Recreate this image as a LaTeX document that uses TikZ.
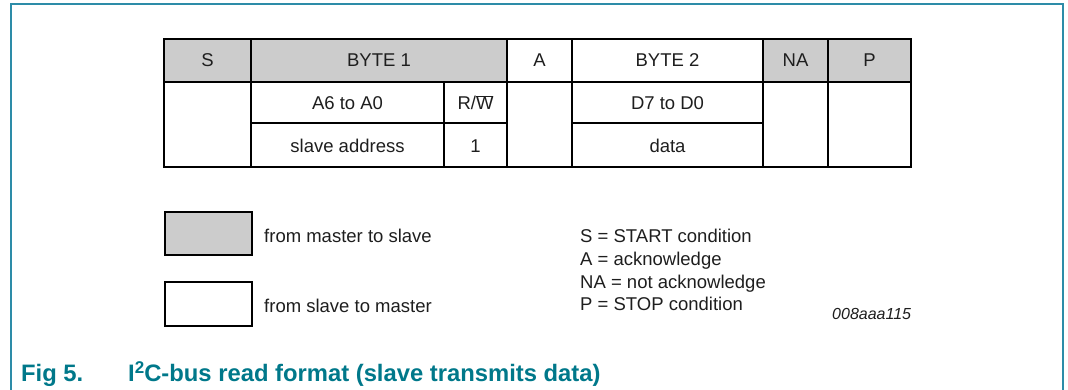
\documentclass[tikz,border=0pt]{standalone}
\usepackage{fontspec}
\setmainfont{Liberation Sans}
\definecolor{framec}{RGB}{45,140,168}
\definecolor{capc}{RGB}{0,120,138}
\definecolor{grayfill}{RGB}{204,204,204}
\definecolor{ink}{RGB}{30,30,30}
\begin{document}
\begin{tikzpicture}[x=1pt,y=-1pt,
  thk/.style={line width=2.8pt},
  thn/.style={line width=1.4pt},
  txt/.style={inner sep=0pt,anchor=base,text=ink,font=\fontsize{18.5}{22}\selectfont},
  lgd/.style={inner sep=0pt,anchor=base west,text=ink,font=\fontsize{18.5}{22}\selectfont},
  captxt/.style={inner sep=0pt,anchor=base west,text=capc,font=\fontsize{23.8}{28}\selectfont\bfseries}]
\useasboundingbox (0,0) rectangle (1068,390);
% frame
\draw[framec,line width=1.5pt] (11,395) -- (11,4) -- (1063,4) -- (1063,395);
% gray cells
\fill[grayfill] (164,39) rectangle (507,82);
\fill[grayfill] (763,39) rectangle (911,82);
% grid
\draw[thn] (164,82) -- (911,82);
\draw[thk] (251,123) -- (507,123);
\draw[thk] (572,123) -- (763,123);
\draw[thk] (251,39) -- (251,167);
\draw[thk] (444,82) -- (444,167);
\draw[thk] (507,39) -- (507,167);
\draw[thk] (572,39) -- (572,167);
\draw[thk] (763,39) -- (763,167);
\draw[thk] (828,39) -- (828,167);
\draw[thk] (164,39) rectangle (911,167);
% text
\node[txt] (s) at (207.5,67) {S};
\node[txt] (b1) at (379,67) {BYTE 1};
\node[txt] (a) at (539.5,67) {A};
\node[txt] (b2) at (667.5,67) {BYTE 2};
\node[txt] (na) at (795.5,67) {NA};
\node[txt] (p) at (869.5,67) {P};
\node[txt] (a6) at (347.5,110) {A6 to A0};
\node[txt] (rw) at (475.5,110) {R/$\overline{\mbox{W}}$};
\node[txt] (sa) at (347.5,153) {slave address};
\node[txt] (one) at (475.5,153) {1};
\node[txt] (d7) at (667.5,110) {D7 to D0};
\node[txt] (data) at (667.5,153) {data};
% legend
\draw[thk,fill=grayfill] (165,212) rectangle (252,255);
\draw[thk,fill=white] (165,282) rectangle (252,326);
\node[lgd] (l1) at (264,242) {from master to slave};
\node[lgd] (l2) at (264,312) {from slave to master};
\node[lgd] (k1) at (580,243) {S = START condition};
\node[lgd] (k2) at (580,265.5) {A = acknowledge};
\node[lgd] (k3) at (580,288) {NA = not acknowledge};
\node[lgd] (k4) at (580,310.5) {P = STOP condition};
\node[lgd,font=\fontsize{16}{18}\selectfont\itshape] (id) at (832,319) {008aaa115};
% caption
\node[captxt] (f1) at (21,381) {Fig 5.};
\node[captxt] (f2) at (128,381) {I\raisebox{0.3em}{\fontsize{17}{17}\selectfont 2}C-bus read format (slave transmits data)};
\end{tikzpicture}
\end{document}
